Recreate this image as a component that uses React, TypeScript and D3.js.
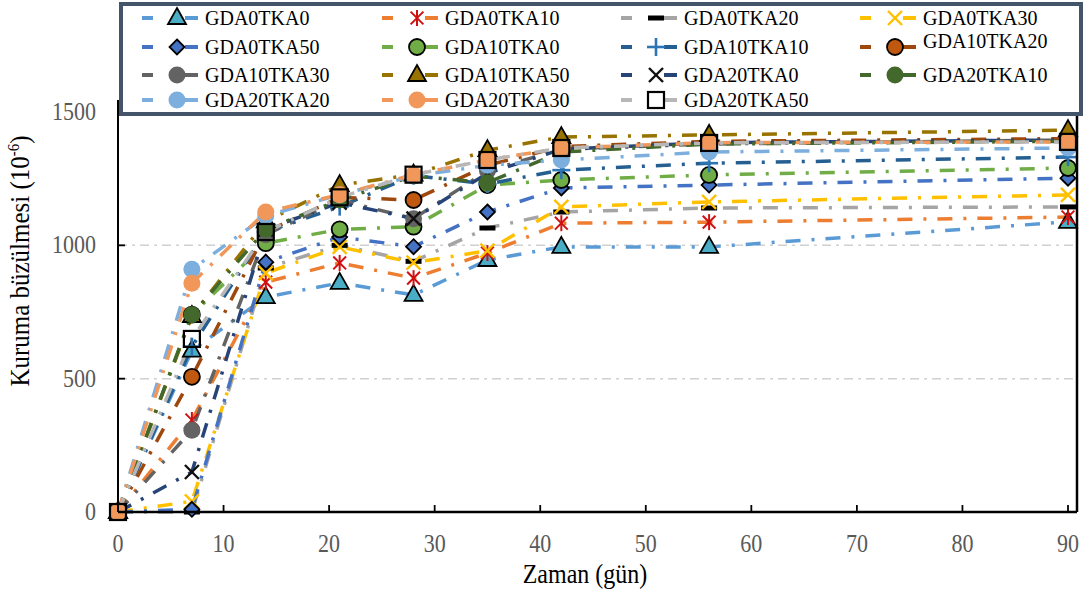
import React from "react";
import * as d3 from "d3";

// Curing ages (days)
const days = [0, 7, 14, 21, 28, 35, 42, 56, 90];

// Drying shrinkage (x10^-6) per mix
const GDA0TKA0 = [0, 605, 806, 859, 814, 945, 994, 994, 1088];
const GDA0TKA10 = [0, 345, 862, 934, 877, 971, 1083, 1087, 1106];
const GDA0TKA20 = [0, 0, 915, 1000, 940, 1065, 1125, 1140, 1144];
const GDA0TKA30 = [0, 40, 896, 994, 935, 980, 1144, 1163, 1189];
const GDA0TKA50 = [0, 10, 937, 1031, 995, 1125, 1215, 1226, 1252];
const GDA10TKA0 = [0, 740, 1008, 1060, 1070, 1226, 1245, 1264, 1290];
const GDA10TKA10 = [0, 620, 1050, 1145, 1262, 1230, 1282, 1308, 1331];
const GDA10TKA20 = [0, 507, 1050, 1180, 1170, 1300, 1370, 1390, 1400];
const GDA10TKA30 = [0, 307, 1040, 1170, 1100, 1280, 1360, 1380, 1395];
const GDA10TKA50 = [0, 735, 1090, 1226, 1265, 1357, 1406, 1414, 1432];
const GDA20TKA0 = [0, 150, 1060, 1160, 1100, 1270, 1360, 1385, 1395];
const GDA20TKA10 = [0, 740, 1060, 1170, 1260, 1235, 1350, 1380, 1390];
const GDA20TKA20 = [0, 910, 1110, 1190, 1260, 1300, 1320, 1350, 1365];
const GDA20TKA30 = [0, 858, 1125, 1190, 1265, 1320, 1365, 1385, 1388];
const GDA20TKA50 = [0, 649, 1050, 1180, 1265, 1320, 1365, 1384, 1388];

const seriesNames = [
  "GDA0TKA0", "GDA0TKA10", "GDA0TKA20", "GDA0TKA30",
  "GDA0TKA50", "GDA10TKA0", "GDA10TKA10", "GDA10TKA20",
  "GDA10TKA30", "GDA10TKA50", "GDA20TKA0", "GDA20TKA10",
  "GDA20TKA20", "GDA20TKA30", "GDA20TKA50",
];
const seriesValues = [
  GDA0TKA0, GDA0TKA10, GDA0TKA20, GDA0TKA30,
  GDA0TKA50, GDA10TKA0, GDA10TKA10, GDA10TKA20,
  GDA10TKA30, GDA10TKA50, GDA20TKA0, GDA20TKA10,
  GDA20TKA20, GDA20TKA30, GDA20TKA50,
];

const xTicks = [0, 10, 20, 30, 40, 50, 60, 70, 80, 90];
const yTicks = [0, 500, 1000, 1500];

type MarkerKind =
  | "triangle" | "asterisk" | "dash" | "cross" | "diamond"
  | "circle" | "plus" | "square";

interface Style {
  line: string;
  marker: MarkerKind;
  fill: string;
  stroke: string;
}

const styles: Style[] = [
  { line: "#5b9bd5", marker: "triangle", fill: "#4bacc6", stroke: "#000" },
  { line: "#ed7d31", marker: "asterisk", fill: "none", stroke: "#d01010" },
  { line: "#a5a5a5", marker: "dash", fill: "#000", stroke: "none" },
  { line: "#ffc000", marker: "cross", fill: "none", stroke: "#ffc000" },
  { line: "#4472c4", marker: "diamond", fill: "#4472c4", stroke: "#000" },
  { line: "#70ad47", marker: "circle", fill: "#70ad47", stroke: "#000" },
  { line: "#255e91", marker: "plus", fill: "none", stroke: "#2e75b6" },
  { line: "#9e480e", marker: "circle", fill: "#c0580f", stroke: "#000" },
  { line: "#636363", marker: "circle", fill: "#636363", stroke: "none" },
  { line: "#997300", marker: "triangle", fill: "#997300", stroke: "#000" },
  { line: "#264478", marker: "cross", fill: "none", stroke: "#111" },
  { line: "#43682b", marker: "circle", fill: "#43682b", stroke: "none" },
  { line: "#7cafdd", marker: "circle", fill: "#7cafdd", stroke: "none" },
  { line: "#f1975a", marker: "circle", fill: "#f1975a", stroke: "none" },
  { line: "#b7b7b7", marker: "square", fill: "none", stroke: "#000" },
];

const W = 1091;
const H = 591;
const left = 118;
const right = 1077;
const top = 112;
const bottom = 512;

const x = d3.scaleLinear().domain([0, 90]).range([left, 1068]);
const y = d3.scaleLinear().domain([0, 1500]).range([bottom, top]);

const serif = '"Liberation Serif", "DejaVu Serif", "Times New Roman", serif';
const textStyle = { fontFamily: serif };
// axis text is set slightly taller than wide
const stretch = 1.12;

function Marker({ kind, cx, cy, fill, stroke }: { kind: MarkerKind; cx: number; cy: number; fill: string; stroke: string }) {
  switch (kind) {
    case "triangle":
      return (
        <path
          d={`M${cx},${cy - 10}L${cx + 9},${cy + 6}L${cx - 9},${cy + 6}Z`}
          fill={fill}
          stroke={stroke}
          strokeWidth={1.8}
        />
      );
    case "asterisk": {
      const r = 8;
      return (
        <g stroke={stroke} strokeWidth={2}>
          <line x1={cx} y1={cy - r} x2={cx} y2={cy + r} />
          <line x1={cx - r * 0.8} y1={cy - r * 0.8} x2={cx + r * 0.8} y2={cy + r * 0.8} />
          <line x1={cx - r * 0.8} y1={cy + r * 0.8} x2={cx + r * 0.8} y2={cy - r * 0.8} />
        </g>
      );
    }
    case "dash":
      return <rect x={cx - 8} y={cy - 2.5} width={16} height={5} fill={fill} />;
    case "cross": {
      const r = 7;
      return (
        <g stroke={stroke} strokeWidth={2.4}>
          <line x1={cx - r} y1={cy - r} x2={cx + r} y2={cy + r} />
          <line x1={cx - r} y1={cy + r} x2={cx + r} y2={cy - r} />
        </g>
      );
    }
    case "diamond":
      return (
        <path
          d={`M${cx},${cy - 7.5}L${cx + 7.5},${cy}L${cx},${cy + 7.5}L${cx - 7.5},${cy}Z`}
          fill={fill}
          stroke={stroke}
          strokeWidth={1.8}
        />
      );
    case "circle":
      return (
        <circle
          cx={cx}
          cy={cy}
          r={stroke === "none" ? 8.5 : 8}
          fill={fill}
          stroke={stroke}
          strokeWidth={1.8}
        />
      );
    case "plus": {
      const r = 9;
      return (
        <g stroke={stroke} strokeWidth={2.6}>
          <line x1={cx - r} y1={cy} x2={cx + r} y2={cy} />
          <line x1={cx} y1={cy - r} x2={cx} y2={cy + r} />
        </g>
      );
    }
    case "square":
      return (
        <rect x={cx - 8} y={cy - 8} width={16} height={16} fill={fill} stroke={stroke} strokeWidth={2.2} />
      );
  }
  return null;
}

// Legend layout: four columns, entries filled row by row
const legendColX = [142, 382, 621, 860];
const legendRowY = [18, 47, 75, 100];

export default function App() {
  const line = d3
    .line<number>()
    .x((_, i) => x(days[i]))
    .y((v) => y(v));

  return (
    <svg
      width={W}
      height={H}
      viewBox={`0 0 ${W} ${H}`}
      style={{ position: "absolute", left: 0, top: 0, background: "#fff" }}
    >
      <rect x={0} y={0} width={W} height={H} fill="#fff" />

      {/* horizontal gridlines */}
      {yTicks.filter((t) => t > 0).map((t) => (
        <line
          key={`g${t}`}
          x1={left}
          x2={right}
          y1={y(t)}
          y2={y(t)}
          stroke="#d0d0d0"
          strokeWidth={1.5}
          strokeDasharray="9 5 3 5"
        />
      ))}

      {/* series lines */}
      {seriesValues.map((vals, i) => (
        <path
          key={`l${i}`}
          d={line(vals) || ""}
          fill="none"
          stroke={styles[i].line}
          strokeWidth={3.5}
          strokeDasharray="15 11 3 11"
        />
      ))}

      {/* series markers */}
      {seriesValues.map((vals, i) => (
        <g key={`m${i}`}>
          {vals.map((v, j) => (
            <Marker
              key={j}
              kind={styles[i].marker}
              cx={x(days[j])}
              cy={y(v)}
              fill={styles[i].fill}
              stroke={styles[i].stroke}
            />
          ))}
        </g>
      ))}

      {/* frame */}
      <line x1={left} x2={left} y1={100} y2={bottom} stroke="#000" strokeWidth={2} />
      <line x1={right} x2={right} y1={100} y2={bottom} stroke="#000" strokeWidth={2.5} />
      <line x1={left} x2={right} y1={bottom} y2={bottom} stroke="#000" strokeWidth={2.5} />

      {/* x axis ticks and labels */}
      {xTicks.map((t) => (
        <g key={`xt${t}`}>
          {t > 0 && (
            <line x1={x(t)} x2={x(t)} y1={bottom} y2={bottom - 7} stroke="#000" strokeWidth={1.8} />
          )}
          <text
            transform={`translate(${x(t)},552) scale(1,${stretch})`}
            textAnchor="middle"
            fontSize={22}
            fill="#595959"
            style={textStyle}
          >
            {t}
          </text>
        </g>
      ))}

      {/* y axis ticks and labels */}
      {yTicks.map((t) => (
        <g key={`yt${t}`}>
          {t > 0 && (
            <line x1={left} x2={left + 7} y1={y(t)} y2={y(t)} stroke="#000" strokeWidth={1.8} />
          )}
          <text
            transform={`translate(96,${y(t) + 8}) scale(1,${stretch})`}
            textAnchor="end"
            fontSize={22}
            fill="#595959"
            style={textStyle}
          >
            {t}
          </text>
        </g>
      ))}

      {/* axis titles */}
      <text
        transform={`translate(585,583) scale(1,${stretch})`}
        textAnchor="middle"
        fontSize={24}
        fill="#000"
        style={textStyle}
      >
        Zaman (gün)
      </text>
      <text
        transform={`translate(29,261) rotate(-90) scale(1,${stretch})`}
        textAnchor="middle"
        fontSize={25}
        fill="#000"
        style={textStyle}
      >
        Kuruma büzülmesi (10
        <tspan fontSize={15} dy={-9}>-6</tspan>
        <tspan dy={9}>)</tspan>
      </text>

      {/* legend */}
      <rect x={121} y={4} width={960} height={110} fill="#fff" stroke="#44546a" strokeWidth={4} />
      {seriesNames.map((name, i) => {
        const col = i % 4;
        const row = Math.floor(i / 4);
        const lx = legendColX[col];
        const ly = legendRowY[row];
        const st = styles[i];
        const labelShift = name === "GDA10TKA20" ? -6 : 0;
        return (
          <g key={`lg${i}`}>
            <line x1={lx} x2={lx + 11} y1={ly} y2={ly} stroke={st.line} strokeWidth={4} />
            <line x1={lx + 43} x2={lx + 56} y1={ly} y2={ly} stroke={st.line} strokeWidth={4} />
            <Marker kind={st.marker} cx={lx + 35} cy={ly} fill={st.fill} stroke={st.stroke} />
            <text x={lx + 63} y={ly + 7 + labelShift} fontSize={20} fill="#000" style={textStyle}>
              {name}
            </text>
          </g>
        );
      })}
    </svg>
  );
}
